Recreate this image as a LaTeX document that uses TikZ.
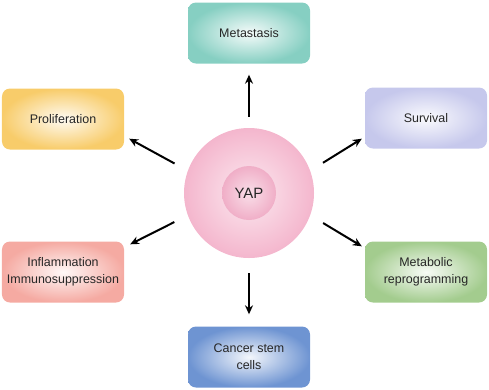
\documentclass[tikz,border=0pt]{standalone}
\usepackage{fontspec}
\setmainfont{Liberation Sans}
\usetikzlibrary{arrows.meta}
\definecolor{TextDark}{HTML}{262626}
\definecolor{MetaTeal}{HTML}{86CFC2}
\definecolor{ProlAmber}{HTML}{F8CC6A}
\definecolor{SurvLilac}{HTML}{C6C8EC}
\definecolor{InflCoral}{HTML}{F5AAA2}
\definecolor{MetabGreen}{HTML}{A3CC8E}
\definecolor{StemBlue}{HTML}{6E94D2}
\definecolor{CellPink}{HTML}{F4B6CD}
\definecolor{CorePink}{HTML}{F0AEC7}

\begin{document}
\begin{tikzpicture}[x=1bp,y=-1bp,
    effectbox/.style={
        rounded corners=8bp,
        minimum width=122bp,
        minimum height=61bp,
        align=center,
        text=TextDark,
        font=\fontsize{12.5}{17}\selectfont,
        inner color=#1!8,
        outer color=#1
    },
    arr/.style={-{Stealth[length=9bp,width=8bp]}, line width=2bp}]
    \useasboundingbox (0,0) rectangle (489,389);
    \node[circle, minimum size=130bp, inner color=CellPink!30, outer color=CellPink] (cell) at (249,193) {};
    \node[circle, minimum size=54bp, inner color=CorePink!40, outer color=CorePink,
        text=TextDark, font=\fontsize{15}{16}\selectfont] (yap) at (cell) {YAP};
    \node[effectbox=MetaTeal] (meta) at (249,33) {Metastasis};
    \node[effectbox=ProlAmber] (prol) at (63,119) {Proliferation};
    \node[effectbox=SurvLilac] (surv) at (426,118) {Survival};
    \node[effectbox=InflCoral] (infl) at (63,272) {Inflammation\\Immunosuppression};
    \node[effectbox=MetabGreen] (metab) at (426,272) {Metabolic\\reprogramming};
    \node[effectbox=StemBlue] (csc) at (249,357) {Cancer stem\\cells};
    \draw[arr, shorten <=11bp, shorten >=11bp] (cell.north) -- (meta.south);
    \draw[arr, shorten <=15bp, shorten >=12bp] (cell.south) -- (csc.north);
    \draw[arr, shorten <=15bp] (cell.160) -- ([shift={(5,-11)}]prol.south east);
    \draw[arr, shorten <=15bp] (cell.20) -- ([shift={(-3,-10)}]surv.south west);
    \draw[arr, shorten <=15bp] (cell.200) -- ([shift={(6,3)}]infl.north east);
    \draw[arr, shorten <=15bp] (cell.340) -- ([shift={(-3,5)}]metab.north west);
\end{tikzpicture}
\end{document}
